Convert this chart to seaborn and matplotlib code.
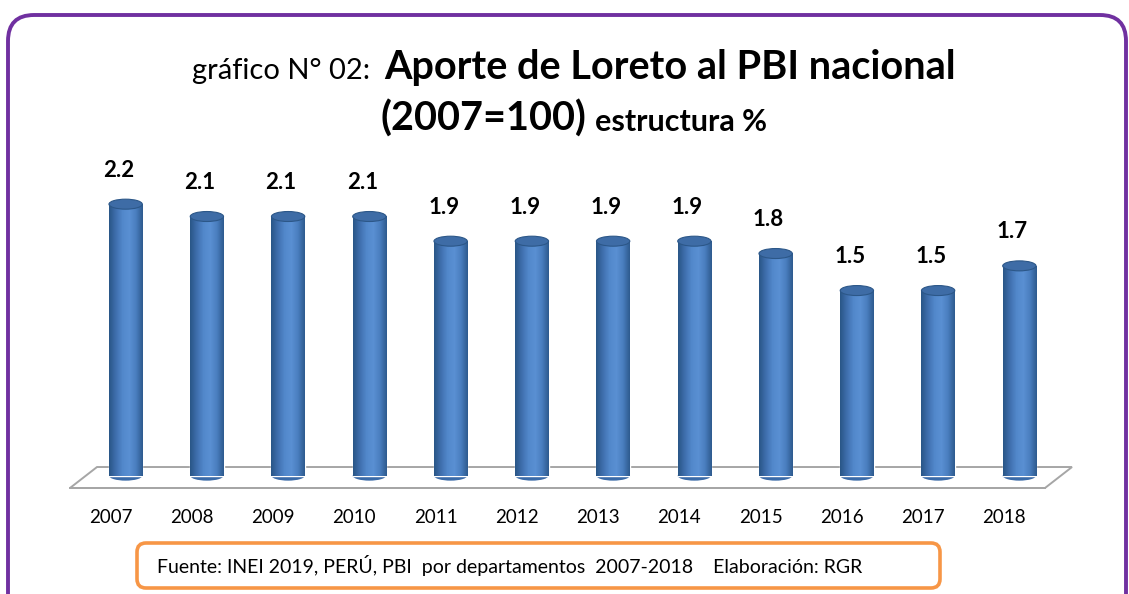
import numpy as np
import seaborn as sns
import matplotlib.pyplot as plt
import matplotlib.transforms as mtransforms
from matplotlib.patches import Ellipse, Polygon, FancyBboxPatch
from matplotlib.colors import LinearSegmentedColormap

# datos: aporte de Loreto al PBI nacional (estructura %)
years = ['2007', '2008', '2009', '2010', '2011', '2012',
         '2013', '2014', '2015', '2016', '2017', '2018']
aporte = [2.2, 2.1, 2.1, 2.1, 1.9, 1.9, 1.9, 1.9, 1.8, 1.5, 1.5, 1.7]

titulo_1 = [('gráfico N° 02:', 21, 'normal', 14),
            ('Aporte de Loreto al PBI nacional', 28.5, 'bold', 0)]
titulo_2 = [('(2007=100)', 28.5, 'bold', 9),
            ('estructura %', 22, 'bold', 0)]
fuente = 'Fuente: INEI 2019, PERÚ, PBI  por departamentos  2007-2018    Elaboración: RGR'

sns.set_style('white')
plt.rcParams['font.family'] = ['Lato', 'DejaVu Sans']
plt.rcParams['text.color'] = 'black'

W, H = 1129, 594
fig = plt.figure(figsize=(W / 100, H / 100), dpi=100)
ax = fig.add_axes([70 / W, (H - 488) / H, 975 / W, (488 - 140) / H])

# barras (cilindros)
sns.barplot(x=years, y=aporte, color='#4F81BD', width=0.41, ax=ax,
            saturation=1, zorder=3)

y0, y1 = -0.1, 2.72

# desplazamiento de profundidad de los cilindros
shift = mtransforms.offset_copy(ax.transData, fig=fig, x=15, y=0, units='dots')
cyl = LinearSegmentedColormap.from_list(
    'cyl', ['#2a5687', '#3f6fae', '#5288cb', '#5a90d3', '#4a7ebf', '#2e5b8f'])
grad = np.linspace(0, 1, 64).reshape(1, -1)
eh = 10 / 123.5

for bar in list(ax.patches):
    bar.set_transform(shift)
    x, w, h = bar.get_x(), bar.get_width(), bar.get_height()
    ax.imshow(grad, extent=(x, x + w, 0, h), transform=shift, aspect='auto',
              cmap=cyl, zorder=3.1, interpolation='bilinear')
    ax.add_patch(Ellipse((x + w / 2, 0), w, eh, transform=shift,
                         facecolor='#3b6ba8', edgecolor='none', zorder=2.9))
    ax.add_patch(Ellipse((x + w / 2, h), w, eh, transform=shift,
                         facecolor='#3e6ca6', edgecolor='#2c5788', lw=0.8, zorder=3.2))

ax.set_xlim(-0.5, 11.5)
ax.set_ylim(y0, y1)

# piso 3D
dx, dy = 27 / 81.25, 21 / 123.5
ax.add_patch(Polygon([(-0.5, y0), (11.5, y0), (11.5 + dx, y0 + dy), (-0.5 + dx, y0 + dy)],
                     closed=True, facecolor='white', edgecolor='#A6A6A6', lw=1.4,
                     zorder=1, clip_on=False))

# etiquetas de valores
for i, v in enumerate(aporte):
    ax.annotate(f'{v:.1f}', xy=(i, v), xytext=(8, 34), textcoords='offset pixels',
                ha='center', va='center', fontsize=16, fontweight='bold', color='black')

sns.despine(ax=ax, left=True, top=True, right=True)
ax.spines['bottom'].set_color('#A6A6A6')
ax.spines['bottom'].set_linewidth(1.4)
ax.set_yticks([])
ax.set_xticks(range(len(years)))
ax.set_xticklabels(years)
ax.set_xticks(np.arange(-0.5, 12, 1), minor=True)
ax.tick_params(axis='x', which='major', length=0, pad=15, labelsize=13.5, labelcolor='black')
ax.tick_params(axis='x', which='minor', length=5, width=1.2, color='#A6A6A6', direction='out')
ax.set_xlabel('')
ax.set_ylabel('')
ax.patch.set_alpha(0)

# titulo en dos lineas con tamaños mixtos
ident = mtransforms.IdentityTransform()
rend = fig.canvas.get_renderer()


def linea(partes, y_img, cx):
    objs = []
    total = 0
    for txt, size, weight, gap in partes:
        t = fig.text(0, 0, txt, fontsize=size, fontweight=weight, color='black',
                     transform=ident, ha='left', va='baseline')
        w = t.get_window_extent(rend).width
        objs.append((t, w, gap))
        total += w + gap
    x = cx - total / 2
    for t, w, gap in objs:
        t.set_position((x, H - y_img))
        x += w + gap


linea(titulo_1, 79, 574)
linea(titulo_2, 131, 574)

# recuadro de fuente
fig.add_artist(FancyBboxPatch((137, H - 588), 803, 45, boxstyle='round,pad=0,rounding_size=9',
                              transform=ident, facecolor='none', edgecolor='#F79646', lw=2.6))
fig.text(157, H - 566, fuente, transform=ident, fontsize=14, color='black',
         ha='left', va='center')

# marco morado
fig.add_artist(FancyBboxPatch((8, -40), 1118, H - 15 + 40, boxstyle='round,pad=0,rounding_size=26',
                              transform=ident, facecolor='none', edgecolor='#7030A0', lw=2.8))

fig.savefig('out.png', dpi=100)
